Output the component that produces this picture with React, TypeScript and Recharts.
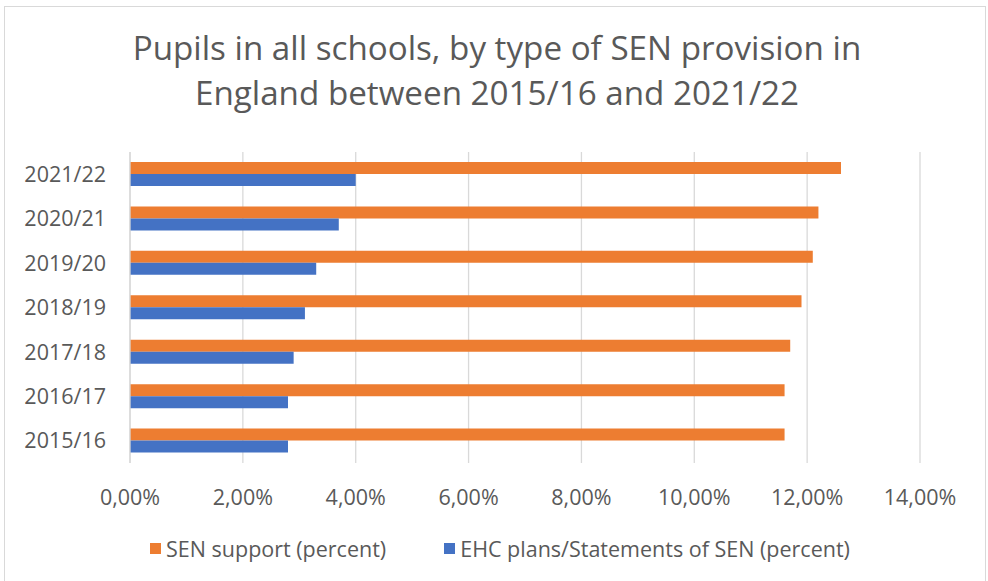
import React from "react";
import { BarChart, Bar, XAxis, YAxis, CartesianGrid, Legend } from "recharts";

const years = ["2015/16", "2016/17", "2017/18", "2018/19", "2019/20", "2020/21", "2021/22"];
const senSupport = [0.116, 0.116, 0.117, 0.119, 0.121, 0.122, 0.126];
const ehcPlans = [0.028, 0.028, 0.029, 0.031, 0.033, 0.037, 0.04];
const xTicks = [0, 0.02, 0.04, 0.06, 0.08, 0.1, 0.12, 0.14];
const titleLines = [
  "Pupils in all schools, by type of SEN provision in",
  "England between 2015/16 and 2021/22",
];
const seriesNames = ["SEN support (percent)", "EHC plans/Statements of SEN (percent)"];

const data = years.map((y, i) => ({ year: y, sen: senSupport[i], ehc: ehcPlans[i] }));

const FONT = "'Open Sans', sans-serif";
const GREY = "#595959";
const ORANGE = "#ED7D31";
const BLUE = "#4472C4";

const fmt = (v: number) => (v * 100).toFixed(2).replace(".", ",") + "%";

const renderLegend = (props: any) => {
  const payload = [...(props.payload || [])].sort(
    (a: any, b: any) => seriesNames.indexOf(a.value) - seriesNames.indexOf(b.value)
  );
  return (
    <div
      style={{
        display: "flex",
        justifyContent: "center",
        alignItems: "center",
        height: 30,
        width: 988,
        paddingLeft: 12,
        boxSizing: "border-box",
        fontFamily: FONT,
        fontSize: 21.5,
        color: GREY,
        whiteSpace: "nowrap",
      }}
    >
      {payload.map((p: any, i: number) => (
        <div
          key={i}
          style={{ display: "flex", alignItems: "center", marginLeft: i === 0 ? 0 : 58 }}
        >
          <span
            style={{ display: "inline-block", width: 11, height: 11, background: p.color, marginRight: 5 }}
          />
          <span>{p.value}</span>
        </div>
      ))}
    </div>
  );
};

export default function App() {
  return (
    <div
      style={{
        position: "fixed",
        left: 0,
        top: 0,
        width: 988,
        height: 581,
        overflow: "hidden",
        background: "#fff",
      }}
    >
      <div
        style={{
          position: "absolute",
          left: 4,
          top: 6,
          width: 980,
          height: 620,
          border: "1px solid #d9d9d9",
        }}
      />
      <svg
        width={988}
        height={130}
        style={{ position: "absolute", left: 0, top: 0 }}
      >
        {titleLines.map((t, i) => (
          <text
            key={i}
            x={497}
            y={59.5 + i * 45.5}
            textAnchor="middle"
            fontFamily={FONT}
            fontSize={33.2}
            fill={GREY}
          >
            {t}
          </text>
        ))}
      </svg>
      <div style={{ position: "absolute", left: 0, top: 0 }}>
        <BarChart
          width={988}
          height={581}
          data={data}
          layout="vertical"
          margin={{ top: 152, right: 68, bottom: 18, left: 0 }}
          barSize={12}
          barGap={0}
        >
          <CartesianGrid horizontal={false} stroke="#d9d9d9" strokeWidth={1.3} />
          <XAxis
            type="number"
            domain={[0, 0.14]}
            ticks={xTicks}
            tickFormatter={fmt}
            axisLine={false}
            tickLine={false}
            tickMargin={21}
            height={70}
            tick={{ fill: GREY, fontSize: 21.5, fontFamily: FONT }}
            interval={0}
          />
          <YAxis
            type="category"
            dataKey="year"
            reversed
            width={130}
            axisLine={{ stroke: "#d9d9d9", strokeWidth: 1.3 }}
            tickLine={false}
            tickMargin={18}
            tick={{ fill: GREY, fontSize: 21.5, fontFamily: FONT }}
            interval={0}
          />
          <Legend
            verticalAlign="bottom"
            height={30}
            content={renderLegend}
            wrapperStyle={{ left: 0, width: 988 }}
          />
          <Bar dataKey="sen" name={seriesNames[0]} fill={ORANGE} isAnimationActive={false} />
          <Bar dataKey="ehc" name={seriesNames[1]} fill={BLUE} isAnimationActive={false} />
        </BarChart>
      </div>
    </div>
  );
}
